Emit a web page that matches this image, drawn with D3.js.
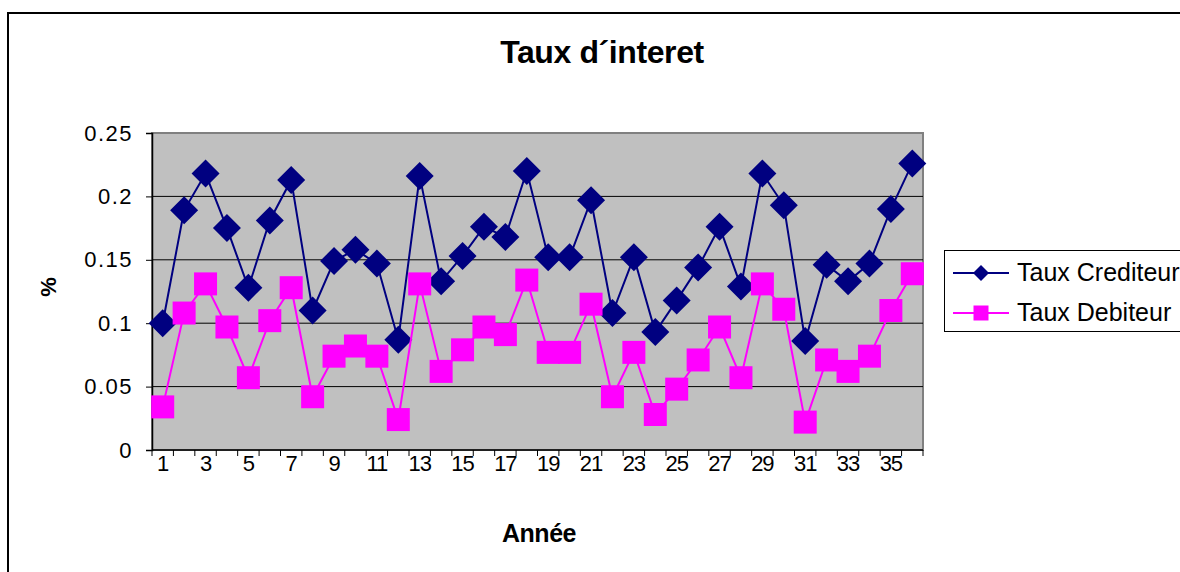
<!DOCTYPE html>
<html>
<head>
<meta charset="utf-8">
<script src="https://cdn.jsdelivr.net/npm/d3@7"></script>
<style>
  body { margin: 0; background: #fff; }
  text { font-family: "Liberation Sans", Arial, sans-serif; }
</style>
</head>
<body>
<div id="chart"></div>
<script>
// data
var annees = d3.range(1, 37);
var tauxCrediteur = [0.100, 0.189, 0.218, 0.175, 0.128, 0.181, 0.213, 0.110, 0.149, 0.158,
	0.147, 0.087, 0.216, 0.133, 0.153, 0.176, 0.168, 0.220, 0.152, 0.152,
	0.197, 0.108, 0.152, 0.093, 0.118, 0.144, 0.176, 0.129, 0.218, 0.193,
	0.086, 0.146, 0.133, 0.147, 0.190, 0.226];
var tauxDebiteur = [0.034, 0.108, 0.131, 0.097, 0.057, 0.102, 0.128, 0.042, 0.074, 0.082,
	0.074, 0.024, 0.131, 0.062, 0.079, 0.097, 0.091, 0.134, 0.077, 0.077,
	0.115, 0.042, 0.077, 0.028, 0.048, 0.071, 0.097, 0.057, 0.131, 0.111,
	0.022, 0.071, 0.062, 0.074, 0.110, 0.139];
var yTicks = [0, 0.05, 0.1, 0.15, 0.2, 0.25];

var width = 1180, height = 572;

var svg = d3.select("#chart").append("svg")
	.attr("width", width)
	.attr("height", height);

// outer frame of the chart
svg.append("rect")
	.attr("x", 8)
	.attr("y", 13)
	.attr("width", 1200)
	.attr("height", 600)
	.attr("fill", "#fff")
	.attr("stroke", "#000")
	.attr("stroke-width", 2);

var x = d3.scaleBand()
	.domain(annees)
	.range([152, 923]);

var y = d3.scaleLinear()
	.domain([0, 0.25])
	.range([450, 133]);

// plot area
svg.append("rect")
	.attr("x", 152)
	.attr("y", 133)
	.attr("width", 771)
	.attr("height", 317)
	.attr("fill", "#c0c0c0")
	.attr("stroke", "#808080")
	.attr("stroke-width", 2);

// gridlines
svg.append("g")
	.selectAll("line")
	.data(yTicks.filter(function(d){ return d > 0 && d < 0.25; }))
	.enter()
	.append("line")
	.attr("x1", 152)
	.attr("x2", 923)
	.attr("y1", function(d){ return y(d); })
	.attr("y2", function(d){ return y(d); })
	.attr("stroke", "#000")
	.attr("stroke-width", 1);

// y axis
var yAxis = svg.append("g")
	.attr("transform", "translate(152,0)")
	.call(d3.axisLeft(y).tickValues(yTicks).tickSize(6).tickPadding(13)
		.tickFormat(function(d){ return String(d); }));
yAxis.select(".domain").attr("stroke", "#000").attr("stroke-width", 1.5);
yAxis.selectAll("text")
	.attr("font-size", 22)
	.attr("letter-spacing", 1.5)
	.attr("fill", "#000");

// x axis, ticks between categories
var xAxis = svg.append("g")
	.attr("transform", "translate(0,450)");
xAxis.append("line")
	.attr("x1", 152).attr("x2", 923)
	.attr("stroke", "#000").attr("stroke-width", 1.5);
xAxis.selectAll("line.tick")
	.data(annees.concat([37]))
	.enter()
	.append("line")
	.attr("class", "tick")
	.attr("x1", function(d){ return d <= 36 ? x(d) : x(36) + x.bandwidth(); })
	.attr("x2", function(d){ return d <= 36 ? x(d) : x(36) + x.bandwidth(); })
	.attr("y1", 0).attr("y2", 6)
	.attr("stroke", "#000");
xAxis.selectAll("text")
	.data(annees.filter(function(d){ return d % 2 === 1; }))
	.enter()
	.append("text")
	.attr("x", function(d){ return x(d) + x.bandwidth() / 2; })
	.attr("y", 21)
	.attr("text-anchor", "middle")
	.attr("font-size", 22)
	.attr("letter-spacing", -1)
	.text(function(d){ return d; });

// titles
svg.append("text")
	.attr("x", 602)
	.attr("y", 63)
	.attr("text-anchor", "middle")
	.attr("font-size", 32)
	.attr("font-weight", "bold")
	.attr("letter-spacing", -0.4)
	.text("Taux d\u00b4interet");

svg.append("text")
	.attr("x", 539)
	.attr("y", 542)
	.attr("text-anchor", "middle")
	.attr("font-size", 25)
	.attr("font-weight", "bold")
	.attr("letter-spacing", -0.5)
	.text("Année");

svg.append("text")
	.attr("transform", "translate(56,287) rotate(-90)")
	.attr("text-anchor", "middle")
	.attr("font-size", 22)
	.attr("font-weight", "bold")
	.text("%");

// series
var line = d3.line()
	.x(function(d, i){ return x(annees[i]) + x.bandwidth() / 2; })
	.y(function(d){ return y(d); });

var series = [
	{ name: "Taux Crediteur", values: tauxCrediteur, color: "#000080", shape: "diamond" },
	{ name: "Taux Debiteur", values: tauxDebiteur, color: "#ff00ff", shape: "square" }
];

function marker(g, s, big) {
	if (s.shape === "diamond") {
		var h = big ? 14 : 8;
		g.append("path")
			.attr("d", "M0," + (-h) + "L" + h + ",0L0," + h + "L" + (-h) + ",0Z")
			.attr("fill", s.color);
	} else {
		var a = big ? 11.5 : 7.5;
		g.append("rect")
			.attr("x", -a).attr("y", -a)
			.attr("width", 2 * a).attr("height", 2 * a)
			.attr("fill", s.color);
	}
}

series.forEach(function(s){
	svg.append("path")
		.datum(s.values)
		.attr("fill", "none")
		.attr("stroke", s.color)
		.attr("stroke-width", 2)
		.attr("d", line);
	svg.append("g")
		.selectAll("g")
		.data(s.values)
		.enter()
		.append("g")
		.attr("transform", function(d, i){
			return "translate(" + (x(annees[i]) + x.bandwidth() / 2) + "," + y(d) + ")";
		})
		.each(function(){ marker(d3.select(this), s, true); });
});

// legend
var legend = svg.append("g");
legend.append("rect")
	.attr("x", 944.5)
	.attr("y", 250.5)
	.attr("width", 300)
	.attr("height", 81)
	.attr("fill", "#fff")
	.attr("stroke", "#000");

series.forEach(function(s, i){
	var ly = 273 + i * 40;
	legend.append("line")
		.attr("x1", 953).attr("x2", 1009)
		.attr("y1", ly).attr("y2", ly)
		.attr("stroke", s.color)
		.attr("stroke-width", 2);
	var m = legend.append("g").attr("transform", "translate(981," + ly + ")");
	marker(m, s, false);
	legend.append("text")
		.attr("x", 1017)
		.attr("y", ly + 8)
		.attr("font-size", 25)
		.text(s.name);
});
</script>
</body>
</html>
